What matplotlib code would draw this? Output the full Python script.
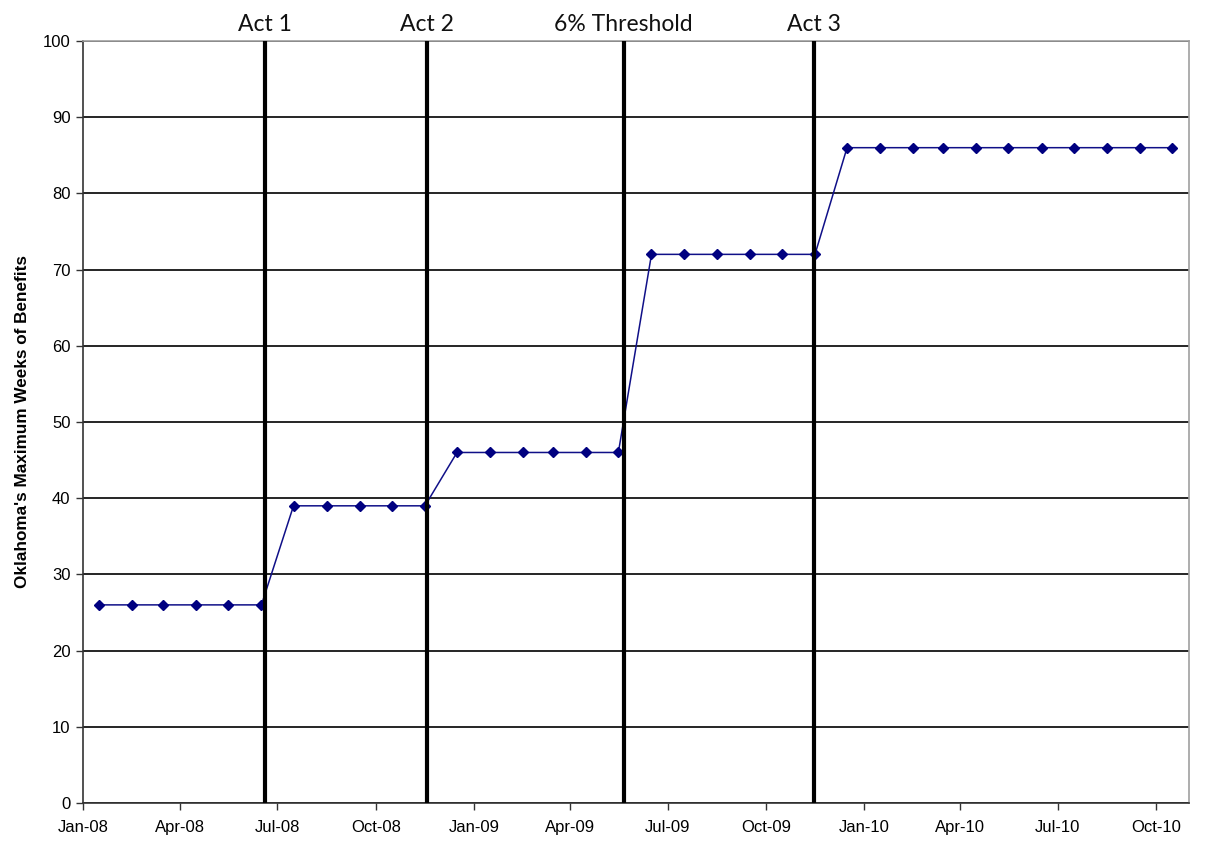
import matplotlib
matplotlib.use("Agg")
import matplotlib.pyplot as plt
import matplotlib.dates as mdates
import pandas as pd

# ---- data ----
month_starts = pd.date_range("2008-01-01", "2010-10-01", freq="MS")
weeks = [26, 26, 26, 26, 26, 26,
         39, 39, 39, 39, 39,
         46, 46, 46, 46, 46, 46,
         72, 72, 72, 72, 72, 72,
         86, 86, 86, 86, 86, 86, 86, 86, 86, 86, 86]
event_dates = pd.to_datetime(["2008-06-19", "2008-11-18", "2009-05-21", "2009-11-15"])
event_labels = ["Act 1", "Act 2", "6% Threshold", "Act 3"]
tick_dates = pd.date_range("2008-01-01", "2010-10-01", freq="3MS")
y_label = "Oklahoma's Maximum Weeks of Benefits"

# points sit mid-month on the date axis
points = month_starts + pd.Timedelta(days=15)

fig = plt.figure(figsize=(12.08, 8.44), dpi=100)
ax = fig.add_axes([83/1208, 41/844, (1189-83)/1208, (803-41)/844])

ax.plot(points, weeks, color="#101088", lw=1.1, marker="D", ms=4.6,
        markerfacecolor="#000080", markeredgecolor="#000080", zorder=3)

for d, lab in zip(event_dates, event_labels):
    ax.axvline(d, color="black", lw=3.0, zorder=4)
    ax.text(d, 1.0135, lab, transform=ax.get_xaxis_transform(), ha="center",
            va="baseline", fontsize=16.5, family="Lato", color="#111111")

ax.set_ylim(0, 100)
ax.set_yticks(range(0, 101, 10))
ax.set_xlim(pd.Timestamp("2008-01-01"), pd.Timestamp("2010-11-01"))
ax.set_xticks(tick_dates)
ax.xaxis.set_major_formatter(mdates.DateFormatter("%b-%y"))

ax.yaxis.grid(True, color="black", lw=1.2)
ax.set_axisbelow(True)

for lbl in ax.get_xticklabels() + ax.get_yticklabels():
    lbl.set_family("Liberation Sans")
    lbl.set_fontsize(12)
ax.tick_params(axis="both", direction="out", length=5, width=1, color="#333333")
ax.tick_params(axis="x", pad=7)
ax.tick_params(axis="y", pad=4)

ax.spines["left"].set_color("#333333")
ax.spines["bottom"].set_color("#333333")
ax.spines["top"].set_color("#a0a0a0")
ax.spines["right"].set_color("#a0a0a0")
for s in ax.spines.values():
    s.set_linewidth(1.2)

ax.set_ylabel(y_label, family="Liberation Sans", fontweight="bold", fontsize=12.3, labelpad=9)

fig.savefig("out.png", dpi=100)
